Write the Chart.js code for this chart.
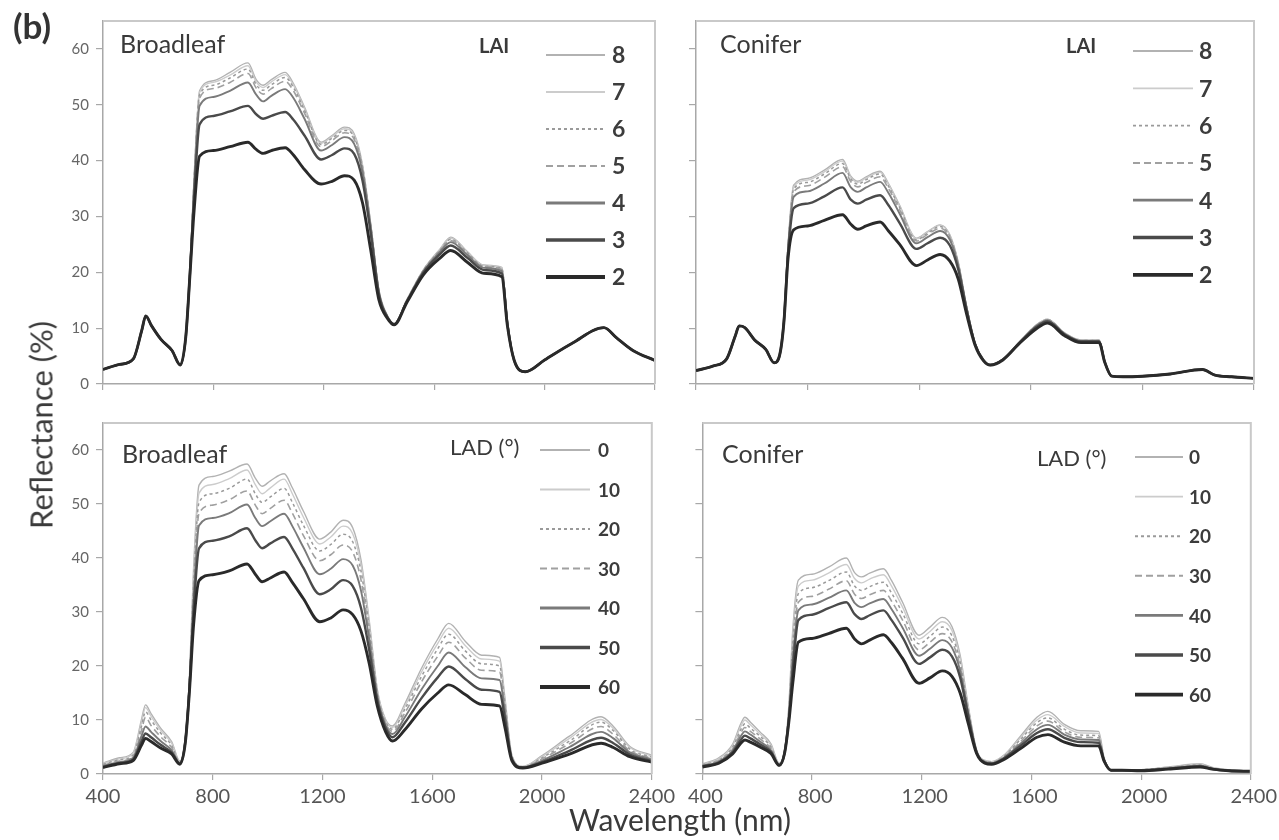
<!DOCTYPE html>
<html><head><meta charset="utf-8">
<script src="https://cdn.jsdelivr.net/npm/chart.js@4.4.1/dist/chart.umd.min.js"></script>
<style>
html,body{margin:0;padding:0;background:#fff;}
#wrap{position:relative;width:1279px;height:840px;overflow:hidden;font-family:Lato,'Open Sans',sans-serif;background:#fff;}
canvas{position:absolute;}
.t{position:absolute;color:#3a3a3a;white-space:nowrap;line-height:1;}
</style></head><body>
<div id="wrap">
<canvas id="cTL" style="left:0;top:0" width="680" height="400"></canvas>
<canvas id="cTR" style="left:680px;top:0" width="599" height="400"></canvas>
<canvas id="cBL" style="left:0;top:400px" width="680" height="440"></canvas>
<canvas id="cBR" style="left:680px;top:400px" width="599" height="440"></canvas>
<div class="t" style="left:13px;top:8px;font-weight:bold;font-size:35px;color:#333;">(b)</div>
<div class="t" style="left:41px;top:425px;font-size:31px;transform:translate(-50%,-50%) rotate(-90deg);">Reflectance (%)</div>
<div class="t" style="left:680px;top:819px;font-size:30px;transform:translate(-50%,-50%);">Wavelength (nm)</div>
</div>
<script>
// ---------- data ----------
const WL = [400,460,510,540,555,575,610,650,680,700,715,730,750,800,860,925,955,980,1010,1060,1090,1130,1190,1230,1275,1310,1340,1370,1400,1430,1455,1500,1560,1620,1660,1720,1780,1845,1865,1890,1930,2000,2100,2215,2260,2320,2400];
const X_TICKS = [400,800,1200,1600,2000,2400];
const Y_TICKS = [0,10,20,30,40,50,60];
const LAI_LABELS = ['8','7','6','5','4','3','2'];
const LAD_LABELS = ['0','10','20','30','40','50','60'];

// Broadleaf, LAI (top-left)
const BL_LAI_8 = [2.6,3.5,4.5,9.5,12.2,10.5,8.0,6.0,3.4,8.5,20.5,37.0,52.5,54.3,55.8,57.5,54.5,53.5,54.5,55.8,53.8,49.6,43.3,44.5,46.0,44.8,39.3,28.7,16.8,12.3,10.8,15.0,20.4,24.1,26.3,23.7,21.3,20.9,11.5,4.2,2.2,4.3,7.3,10.1,8.3,6.0,4.2];
const BL_LAI_7 = [2.6,3.5,4.5,9.5,12.2,10.5,8.0,6.0,3.4,8.5,20.4,36.7,52.2,54.0,55.3,57.0,54.1,53.1,54.1,55.4,53.5,49.3,43.1,44.3,45.7,44.5,39.1,28.6,16.7,12.3,10.8,15.0,20.3,24.0,26.1,23.6,21.2,20.8,11.4,4.2,2.2,4.3,7.3,10.1,8.3,6.0,4.2];
const BL_LAI_6 = [2.6,3.5,4.5,9.5,12.2,10.5,8.0,6.0,3.4,8.5,20.3,36.4,51.8,53.5,54.8,56.4,53.6,52.6,53.6,54.9,53.1,49.0,42.9,44.0,45.4,44.2,38.9,28.5,16.6,12.2,10.8,14.9,20.3,23.9,25.9,23.5,21.1,20.7,11.3,4.2,2.2,4.3,7.3,10.1,8.3,6.0,4.2];
const BL_LAI_5 = [2.6,3.5,4.5,9.5,12.2,10.5,8.0,6.0,3.4,8.5,20.2,36.0,51.2,52.9,54.0,55.6,53.0,51.9,52.9,54.2,52.5,48.5,42.5,43.6,45.0,43.8,38.6,28.3,16.5,12.2,10.8,14.9,20.2,23.8,25.7,23.3,21.0,20.5,11.2,4.2,2.2,4.3,7.3,10.1,8.3,6.0,4.2];
const BL_LAI_4 = [2.6,3.5,4.5,9.5,12.2,10.5,8.0,6.0,3.4,8.5,20.0,35.0,49.8,51.4,52.5,54.0,51.8,50.6,51.6,52.8,51.2,47.5,41.8,42.8,44.2,43.0,38.0,28.0,16.3,12.1,10.7,14.8,20.1,23.6,25.4,23.1,20.8,20.2,11.0,4.2,2.2,4.3,7.3,10.1,8.3,6.0,4.2];
const BL_LAI_3 = [2.6,3.5,4.5,9.5,12.2,10.5,8.0,6.0,3.4,8.5,19.8,33.5,46.5,48.0,48.8,49.8,48.3,47.5,48.0,48.7,47.3,44.5,40.2,41.0,42.2,41.2,36.5,27.0,16.0,12.0,10.7,14.7,19.9,23.2,24.8,22.6,20.4,19.8,10.8,4.2,2.2,4.3,7.3,10.1,8.3,6.0,4.2];
const BL_LAI_2 = [2.6,3.5,4.5,9.5,12.2,10.5,8.0,6.0,3.4,8.5,19.5,31.0,40.8,41.8,42.5,43.3,42.0,41.3,41.8,42.3,41.0,38.4,35.8,36.3,37.3,36.5,32.5,24.0,15.0,11.8,10.6,14.5,19.5,22.5,23.9,21.8,19.8,19.2,10.5,4.2,2.2,4.3,7.3,10.1,8.3,6.0,4.2];

// Conifer, LAI (top-right)
const CF_LAI_8 = [2.4,3.2,4.5,8.5,10.4,10.1,7.9,6.2,3.8,5.2,11.5,25.0,35.6,36.8,38.3,40.2,37.2,36.3,37.1,38.1,35.9,32.0,26.1,27.3,28.5,26.7,21.8,13.9,7.3,4.3,3.4,4.4,7.6,10.6,11.6,9.2,7.9,7.9,4.0,1.4,1.3,1.4,1.8,2.6,1.6,1.3,1.0];
const CF_LAI_7 = [2.4,3.2,4.5,8.5,10.4,10.1,7.9,6.2,3.8,5.2,11.5,24.8,35.3,36.5,38.0,39.9,37.0,36.1,36.9,37.9,35.7,31.8,26.0,27.2,28.4,26.6,21.7,13.8,7.3,4.3,3.4,4.4,7.6,10.6,11.6,9.2,7.9,7.9,4.0,1.4,1.3,1.4,1.8,2.6,1.6,1.3,1.0];
const CF_LAI_6 = [2.4,3.2,4.5,8.5,10.4,10.1,7.9,6.2,3.8,5.2,11.4,24.6,34.9,36.1,37.6,39.5,36.7,35.8,36.6,37.6,35.4,31.6,25.8,27.0,28.2,26.4,21.6,13.8,7.3,4.3,3.4,4.4,7.5,10.5,11.5,9.1,7.8,7.8,4.0,1.4,1.3,1.4,1.8,2.6,1.6,1.3,1.0];
const CF_LAI_5 = [2.4,3.2,4.5,8.5,10.4,10.1,7.9,6.2,3.8,5.2,11.4,24.4,34.4,35.5,37.0,38.9,36.2,35.3,36.1,37.1,35.0,31.2,25.6,26.8,27.9,26.2,21.5,13.7,7.3,4.3,3.4,4.4,7.5,10.5,11.5,9.1,7.8,7.8,4.0,1.4,1.3,1.4,1.8,2.6,1.6,1.3,1.0];
const CF_LAI_4 = [2.4,3.2,4.5,8.5,10.4,10.1,7.9,6.2,3.8,5.2,11.3,24.0,33.5,34.5,35.9,37.8,35.2,34.4,35.2,36.2,34.2,30.5,25.2,26.3,27.4,25.8,21.2,13.6,7.3,4.3,3.4,4.4,7.5,10.4,11.4,9.0,7.7,7.7,4.0,1.4,1.3,1.4,1.8,2.6,1.6,1.3,1.0];
const CF_LAI_3 = [2.4,3.2,4.5,8.5,10.4,10.1,7.9,6.2,3.8,5.2,11.2,23.5,31.5,32.3,33.6,35.2,33.0,32.3,33.0,33.8,32.0,28.8,24.2,25.2,26.2,24.8,20.5,13.3,7.2,4.3,3.4,4.4,7.4,10.2,11.2,8.9,7.6,7.6,3.9,1.4,1.3,1.4,1.8,2.6,1.6,1.3,1.0];
const CF_LAI_2 = [2.4,3.2,4.5,8.5,10.4,10.1,7.9,6.2,3.8,5.2,11.0,22.5,27.6,28.3,29.3,30.3,28.6,27.7,28.3,29.0,27.4,25.0,21.2,22.2,23.2,22.0,18.8,12.5,7.0,4.2,3.4,4.3,7.3,9.9,10.9,8.7,7.4,7.4,3.9,1.4,1.3,1.4,1.8,2.6,1.6,1.3,1.0];

// Broadleaf, LAD (bottom-left)
const BL_LAD_0  = [2.0,3.0,4.0,10.0,12.8,11.2,8.5,6.0,2.4,6.5,18.0,38.0,53.5,55.1,56.1,57.4,54.8,53.3,54.3,55.6,53.0,48.7,43.5,44.8,47.0,45.6,39.7,28.5,15.6,10.1,8.9,13.0,19.5,25.0,27.9,24.6,22.0,21.6,14.0,3.5,1.4,3.4,7.0,10.6,8.8,5.1,3.5];
const BL_LAD_10 = [1.9,2.8,3.8,9.5,12.3,10.7,8.1,5.7,2.3,6.5,17.6,36.5,52.0,53.6,54.7,56.3,53.6,51.9,53.0,54.6,51.9,47.6,42.6,43.9,45.9,44.5,38.8,28.0,15.4,9.9,8.6,12.5,18.8,24.2,27.0,23.8,21.3,20.9,13.5,3.4,1.4,3.2,6.6,10.1,8.4,4.9,3.3];
const BL_LAD_20 = [1.8,2.6,3.5,8.8,11.5,10.0,7.6,5.3,2.2,6.4,17.2,35.0,50.3,51.9,52.9,54.6,51.9,50.3,51.3,52.9,50.3,46.1,41.3,42.5,44.4,43.0,37.6,27.2,15.1,9.7,8.3,12.0,18.0,23.2,25.9,22.8,20.4,20.0,13.0,3.3,1.3,3.0,6.1,9.6,8.0,4.6,3.1];
const BL_LAD_30 = [1.6,2.4,3.2,8.0,10.5,9.0,6.9,4.9,2.1,6.3,16.8,33.5,48.3,49.8,50.8,52.4,49.8,48.2,49.2,50.7,48.3,44.2,39.5,40.6,42.4,41.1,36.0,26.2,14.7,9.4,7.9,11.3,17.0,21.8,24.4,21.5,19.2,18.9,12.3,3.1,1.3,2.8,5.6,8.8,7.3,4.3,2.9];
const BL_LAD_40 = [1.5,2.2,3.0,7.0,8.8,7.8,6.1,4.4,2.0,6.2,16.3,32.0,46.0,47.4,48.3,49.9,47.4,45.9,46.8,48.2,45.9,42.0,37.0,38.0,39.8,38.6,34.0,25.0,14.2,9.0,7.4,10.5,15.6,20.0,22.5,19.8,17.7,17.4,11.5,2.9,1.2,2.5,5.0,7.8,6.6,4.0,2.7];
const BL_LAD_50 = [1.3,2.0,2.7,6.0,7.5,6.8,5.4,4.0,1.9,6.0,15.8,30.0,41.8,43.2,44.0,45.5,43.3,41.8,42.7,43.9,41.8,38.2,33.3,34.2,35.9,34.8,30.8,23.0,13.5,8.5,6.8,9.5,14.0,17.9,19.9,17.6,15.6,15.2,10.2,2.7,1.2,2.2,4.3,6.7,5.7,3.6,2.4];
const BL_LAD_60 = [1.2,1.9,2.5,5.3,6.6,6.0,4.8,3.7,1.8,5.8,15.3,27.5,35.8,36.9,37.6,38.9,37.0,35.6,36.3,37.4,35.5,32.5,28.2,28.9,30.4,29.5,26.5,20.5,12.5,7.8,6.1,8.2,12.0,15.0,16.5,14.7,12.9,12.6,8.6,2.5,1.1,2.0,3.7,5.7,4.9,3.2,2.2];

// Conifer, LAD (bottom-right)
const CF_LAD_0  = [1.9,3.0,5.5,9.3,10.5,9.6,7.8,5.6,2.0,4.5,12.5,27.0,35.9,37.0,38.3,40.0,37.3,36.5,37.2,38.0,35.8,31.8,25.7,27.2,29.0,27.3,22.0,12.5,4.5,2.5,2.3,3.5,7.0,10.5,11.6,9.2,8.0,7.9,3.0,0.7,0.7,0.8,1.3,1.9,1.2,0.8,0.5];
const CF_LAD_10 = [1.8,2.8,5.2,8.8,10.0,9.1,7.4,5.3,1.9,4.4,12.0,25.8,34.8,35.9,37.2,38.8,36.2,35.4,36.1,36.9,34.8,30.9,25.0,26.4,28.2,26.6,21.4,12.2,4.4,2.5,2.3,3.4,6.7,10.0,11.0,8.8,7.6,7.5,2.9,0.7,0.7,0.8,1.2,1.8,1.1,0.8,0.5];
const CF_LAD_20 = [1.7,2.6,4.9,8.2,9.3,8.5,7.0,5.0,1.8,4.3,11.5,24.5,33.4,34.5,35.8,37.4,34.8,34.0,34.7,35.5,33.5,29.8,24.1,25.5,27.2,25.6,20.7,11.9,4.3,2.4,2.2,3.3,6.4,9.5,10.4,8.3,7.2,7.1,2.8,0.7,0.7,0.8,1.2,1.7,1.1,0.7,0.5];
const CF_LAD_30 = [1.6,2.5,4.6,7.6,8.6,7.9,6.5,4.7,1.8,4.2,11.0,23.0,31.8,32.9,34.2,35.8,33.3,32.5,33.2,34.0,32.0,28.5,23.0,24.4,26.0,24.5,19.9,11.5,4.2,2.3,2.1,3.2,6.0,8.9,9.8,7.8,6.8,6.7,2.7,0.7,0.7,0.7,1.1,1.6,1.0,0.7,0.5];
const CF_LAD_40 = [1.5,2.3,4.3,7.0,7.9,7.3,6.0,4.4,1.7,4.1,10.5,21.5,30.3,31.4,32.6,34.0,31.7,30.9,31.6,32.4,30.5,27.1,21.9,23.2,24.8,23.4,19.1,11.1,4.1,2.2,2.0,3.0,5.6,8.3,9.1,7.3,6.4,6.3,2.6,0.7,0.7,0.7,1.0,1.5,1.0,0.7,0.5];
const CF_LAD_50 = [1.4,2.1,4.0,6.3,7.1,6.6,5.5,4.1,1.6,4.0,10.0,19.5,28.5,29.5,30.7,31.8,29.6,28.7,29.4,30.3,28.5,25.3,20.4,21.6,23.0,21.8,17.9,10.6,4.0,2.1,1.9,2.9,5.2,7.6,8.3,6.7,5.9,5.8,2.5,0.7,0.7,0.7,1.0,1.4,0.9,0.6,0.5];
const CF_LAD_60 = [1.3,2.0,3.7,5.7,6.3,5.9,5.0,3.8,1.6,3.9,9.5,17.0,24.4,25.1,26.0,27.0,25.0,24.1,24.8,25.8,24.3,21.4,16.8,17.8,19.1,18.1,15.0,9.3,3.8,2.0,1.8,2.7,4.7,6.8,7.3,5.9,5.2,5.2,2.4,0.7,0.7,0.6,0.9,1.3,0.9,0.6,0.5];

// ---------- styles ----------
const STYLES = [
  {c:'#b2b2b2', w:1.4, d:[]},
  {c:'#cccccc', w:1.4, d:[]},
  {c:'#9a9a9a', w:1.5, d:[3,3]},
  {c:'#a0a0a0', w:1.6, d:[7,4]},
  {c:'#7a7a7a', w:1.9, d:[]},
  {c:'#4a4a4a', w:2.4, d:[]},
  {c:'#2a2a2a', w:2.9, d:[]}
];

Chart.defaults.font.family = "Lato, 'Open Sans', sans-serif";
Chart.defaults.color = '#555';

const decorPlugin = {
  id: 'decor',
  afterDraw(chart, args, o) {
    const ctx = chart.ctx, a = chart.chartArea;
    ctx.save();
    ctx.strokeStyle = '#c9c9c9'; ctx.lineWidth = 2; ctx.setLineDash([]);
    ctx.beginPath();
    ctx.moveTo(a.left, a.top); ctx.lineTo(a.right, a.top); ctx.lineTo(a.right, a.bottom);
    ctx.stroke();
    ctx.fillStyle = '#3a3a3a';
    ctx.font = '25px Lato, sans-serif';
    ctx.textBaseline = 'alphabetic'; ctx.textAlign = 'left';
    ctx.fillText(o.name, o.nx, o.ny);
    ctx.font = o.titleFont;
    ctx.textBaseline = 'middle';
    ctx.fillText(o.title, o.tx, o.ty);
    const ds = chart.data.datasets;
    ctx.font = o.labelFont;
    ds.forEach((d, i) => {
      const y = o.y0 + o.dy * i;
      ctx.strokeStyle = d.borderColor;
      ctx.lineWidth = d.borderWidth + (i >= 4 ? 0.9 : 0.4);
      ctx.setLineDash(d.borderDash || []);
      ctx.beginPath(); ctx.moveTo(o.x0, y); ctx.lineTo(o.x1, y); ctx.stroke();
      ctx.setLineDash([]);
      ctx.fillStyle = '#3c3c3c';
      ctx.fillText(d.label, o.lx, y + 1);
    });
    ctx.restore();
  }
};

function panel(id, series, labels, cfg) {
  const datasets = series.map((arr, i) => ({
    label: labels[i],
    data: WL.map((w, j) => ({x: w, y: arr[j]})),
    borderColor: STYLES[i].c,
    borderWidth: STYLES[i].w,
    borderDash: STYLES[i].d,
    pointRadius: 0,
    fill: false,
    cubicInterpolationMode: 'monotone',
    order: series.length - 1 - i
  }));
  return new Chart(document.getElementById(id), {
    type: 'line',
    data: {datasets},
    plugins: [decorPlugin],
    options: {
      responsive: false, animation: false,
      layout: {padding: cfg.pad},
      plugins: {legend: {display: false}, tooltip: {enabled: false}, decor: cfg.decor},
      scales: {
        x: {
          type: 'linear', min: 400, max: 2400,
          afterBuildTicks: s => { s.ticks = X_TICKS.map(v => ({value: v})); },
          afterFit: s => { s.height = cfg.xH; },
          grid: {drawOnChartArea: false, drawTicks: true, tickLength: 6, color: '#a8a8a8', lineWidth: 1.2},
          border: {display: true, color: '#a8a8a8', width: 1.5},
          ticks: {display: true, autoSkip: false, maxRotation: 0, padding: 5, labelOffset: cfg.xOff || 0,
                  font: {size: 20}, color: '#555',
                  callback: v => cfg.showX ? String(v) : ''}
        },
        y: {
          type: 'linear', min: 0, max: 65,
          afterBuildTicks: s => { s.ticks = Y_TICKS.map(v => ({value: v})); },
          afterFit: s => { s.width = cfg.yW; },
          grid: {drawOnChartArea: false, drawTicks: true, tickLength: 7, color: '#a8a8a8', lineWidth: 1.2},
          border: {display: true, color: '#a8a8a8', width: 1.5},
          ticks: {display: true, padding: 7, font: {size: 15}, color: '#666',
                  callback: v => cfg.showY ? String(v) : ''}
        }
      }
    }
  });
}

panel('cTL', [BL_LAI_8,BL_LAI_7,BL_LAI_6,BL_LAI_5,BL_LAI_4,BL_LAI_3,BL_LAI_2], LAI_LABELS, {
  pad: {top: 21, right: 25, left: 0, bottom: 0}, xH: 8, yW: 103, showX: false, showY: true,
  decor: {name: 'Broadleaf', nx: 120, ny: 53, title: 'LAI', titleFont: 'bold 20px Lato, sans-serif', tx: 479, ty: 47,
          labelFont: 'bold 23px Lato, sans-serif', x0: 546, x1: 605, lx: 612, y0: 55, dy: 37}
});
panel('cTR', [CF_LAI_8,CF_LAI_7,CF_LAI_6,CF_LAI_5,CF_LAI_4,CF_LAI_3,CF_LAI_2], LAI_LABELS, {
  pad: {top: 21, right: 25, left: 0, bottom: 0}, xH: 8, yW: 16, showX: false, showY: false,
  decor: {name: 'Conifer', nx: 40, ny: 53, title: 'LAI', titleFont: 'bold 20px Lato, sans-serif', tx: 386, ty: 47,
          labelFont: 'bold 23px Lato, sans-serif', x0: 453, x1: 513, lx: 519, y0: 51, dy: 37.3}
});
panel('cBL', [BL_LAD_0,BL_LAD_10,BL_LAD_20,BL_LAD_30,BL_LAD_40,BL_LAD_50,BL_LAD_60], LAD_LABELS, {
  pad: {top: 23, right: 25, left: 0, bottom: 0}, xH: 66, yW: 103, showX: true, showY: true,
  decor: {name: 'Broadleaf', nx: 122, ny: 63, title: 'LAD (°)', titleFont: '22px Lato, sans-serif', tx: 450, ty: 48,
          labelFont: 'bold 19px Lato, sans-serif', x0: 540, x1: 590, lx: 598, y0: 50, dy: 39.5}
});
panel('cBR', [CF_LAD_0,CF_LAD_10,CF_LAD_20,CF_LAD_30,CF_LAD_40,CF_LAD_50,CF_LAD_60], LAD_LABELS, {
  pad: {top: 23, right: 25, left: 0, bottom: 0}, xH: 66, yW: 16, showX: true, showY: false, xOff: 3,
  decor: {name: 'Conifer', nx: 42, ny: 63, title: 'LAD (°)', titleFont: '22px Lato, sans-serif', tx: 357, ty: 59,
          labelFont: 'bold 19px Lato, sans-serif', x0: 455, x1: 503, lx: 509, y0: 57, dy: 39.6}
});
</script>
</body></html>
